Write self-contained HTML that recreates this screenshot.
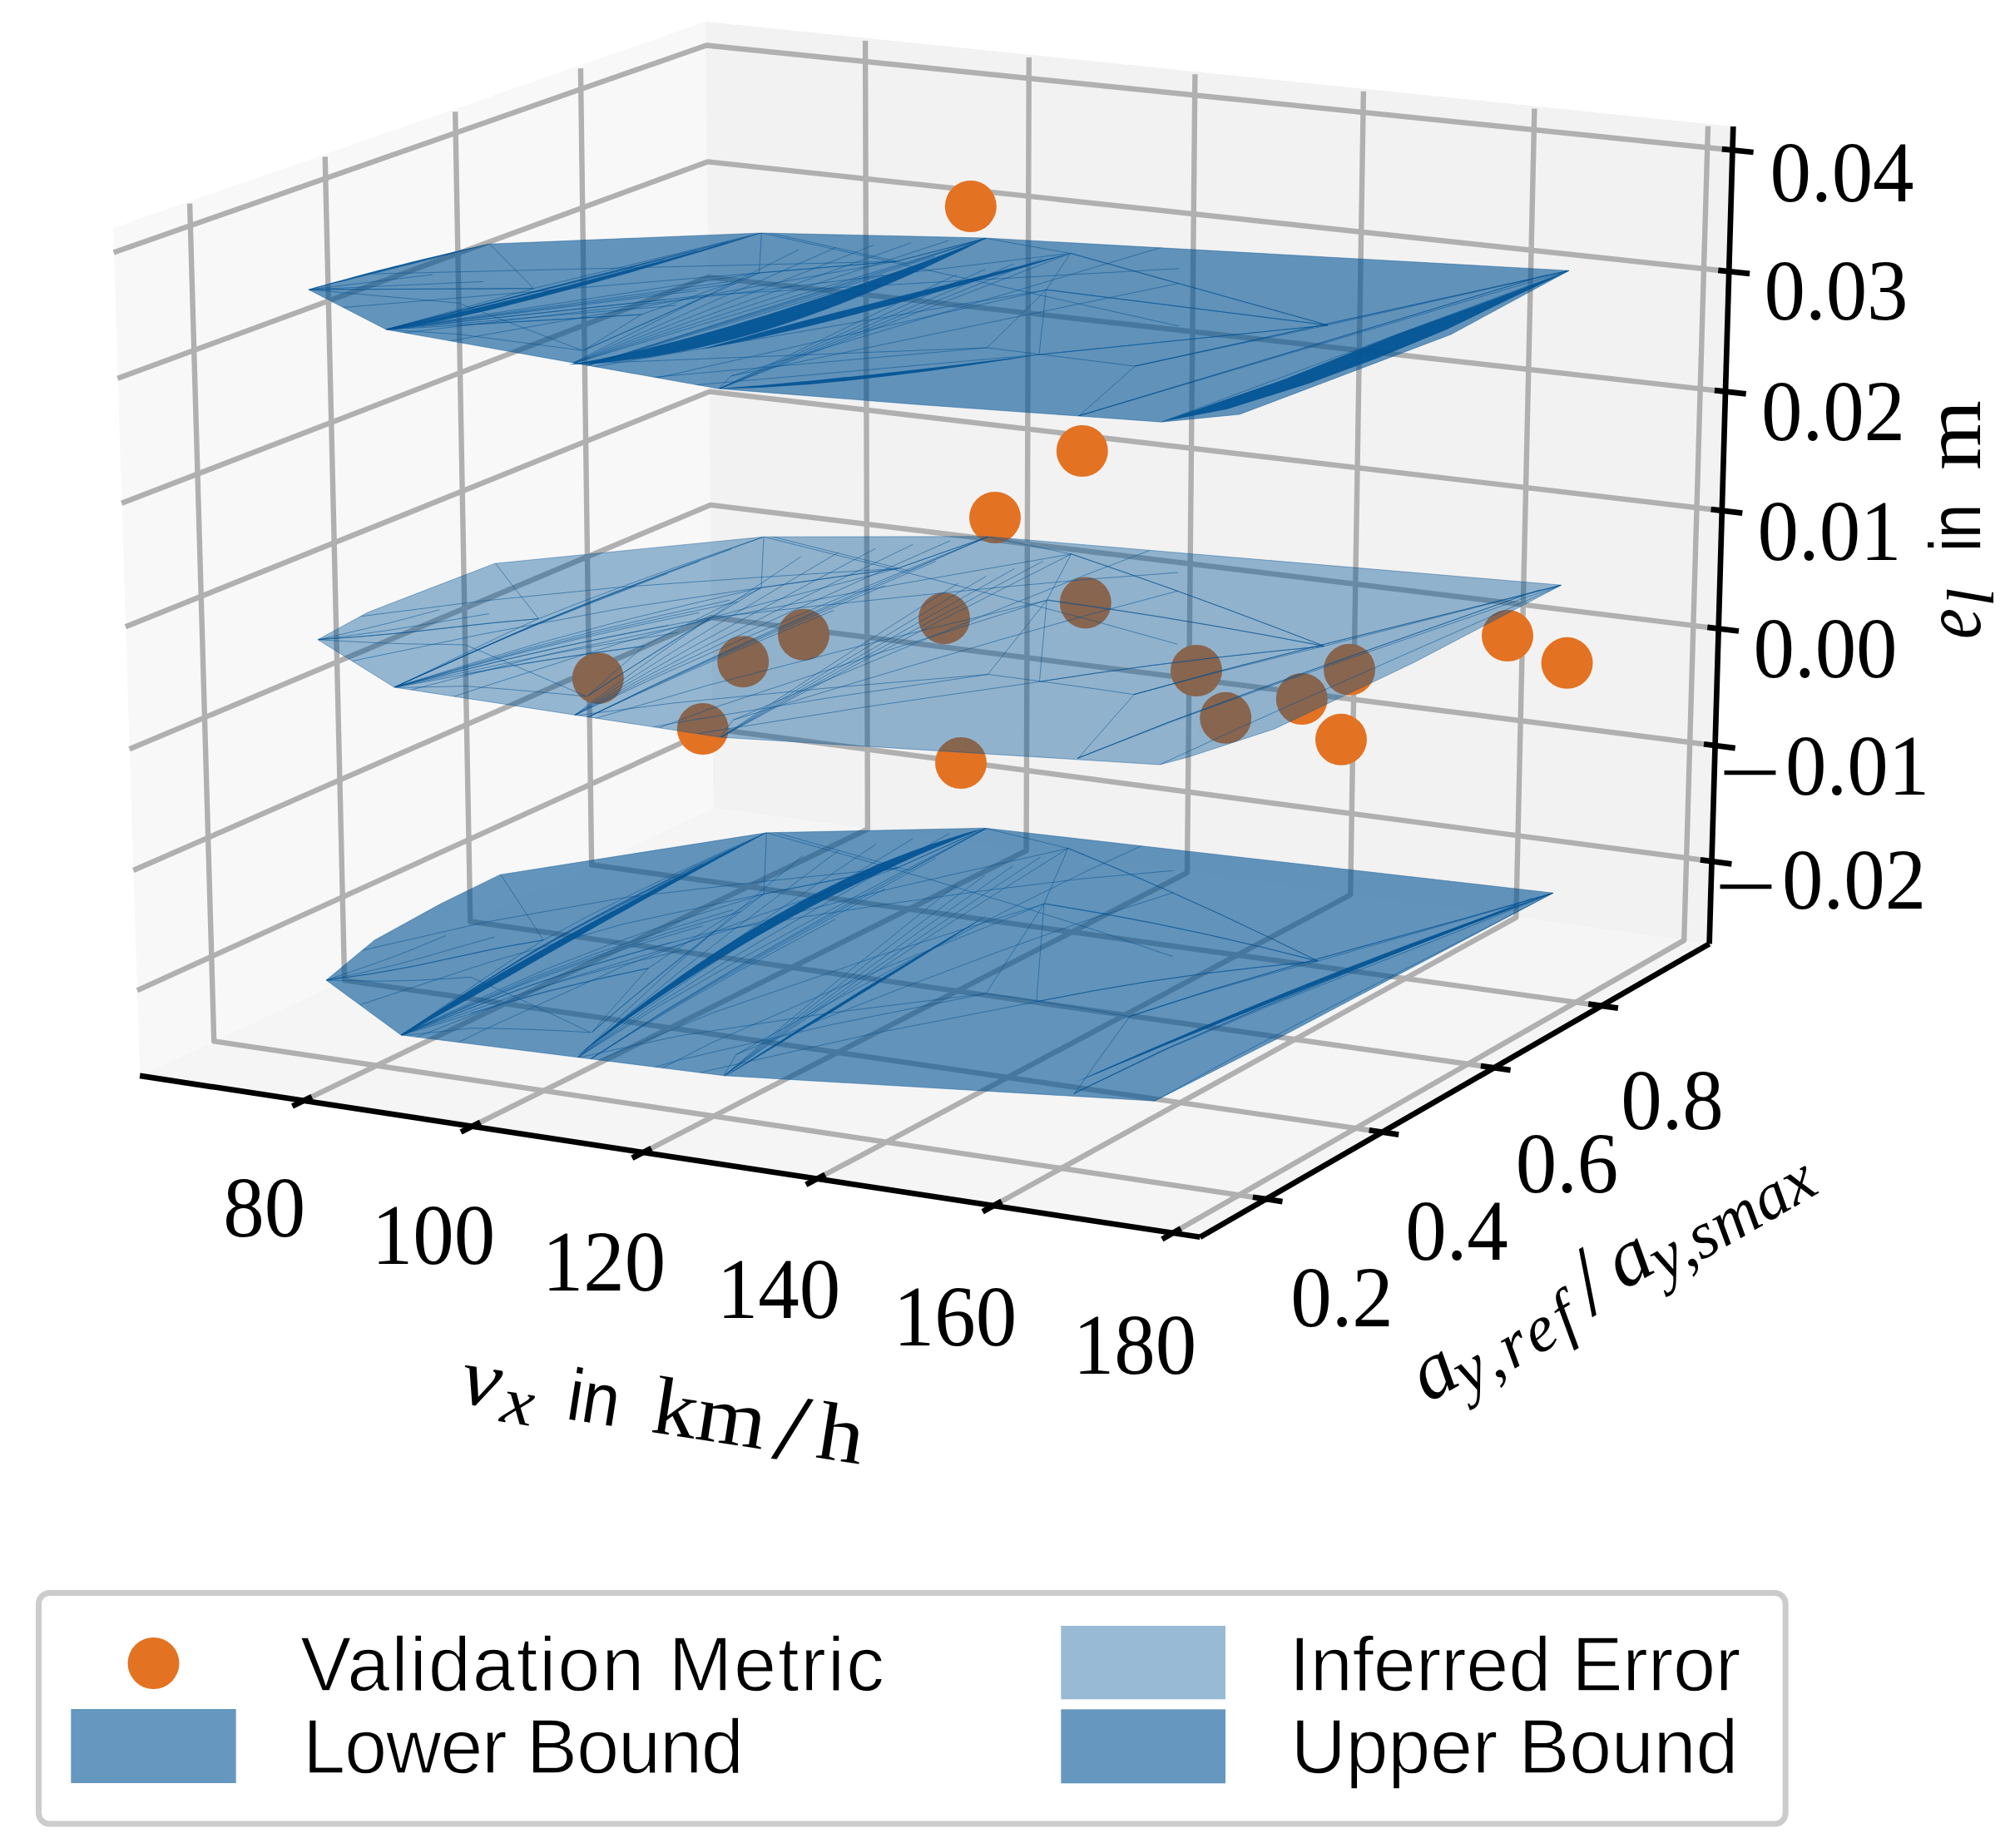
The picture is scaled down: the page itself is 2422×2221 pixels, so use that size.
<!DOCTYPE html>
<html><head><meta charset="utf-8"><title>plot</title>
<style>html,body{margin:0;padding:0;background:#fff}svg{display:block}</style></head>
<body>
<svg width="2422" height="2221" viewBox="0 0 2422 2221">
<rect width="2422" height="2221" fill="#fff"/>
<polygon points="168.1,1292.9 857.4,971.2 848.0,26.0 136.0,274.0" fill="#f8f8f8"/>
<polygon points="857.4,971.2 2054.6,1134.3 2083.3,152.0 848.0,26.0" fill="#f2f2f2"/>
<polygon points="168.1,1292.9 1442.4,1486.8 2054.6,1134.3 857.4,971.2" fill="#f5f5f5"/>
<g fill="none" stroke="#b0b0b0" stroke-width="6.4" stroke-linejoin="round">
<polyline points="364.9,1322.9 1042.9,996.4 1040.1,49.1"/>
<polyline points="567.5,1353.7 1233.6,1022.4 1236.8,69.0"/>
<polyline points="773.2,1385.0 1427.0,1048.8 1436.4,89.2"/>
<polyline points="982.1,1416.8 1623.2,1075.5 1638.9,109.7"/>
<polyline points="1194.3,1449.0 1822.3,1102.6 1844.4,130.5"/>
<polyline points="1409.8,1481.8 2024.2,1130.1 2053.0,151.6"/>
<polyline points="1521.7,1441.1 257.2,1251.3 228.1,244.7"/>
<polyline points="1661.4,1360.7 414.1,1178.1 390.7,188.4"/>
<polyline points="1795.8,1283.3 565.3,1107.5 547.2,134.2"/>
<polyline points="1925.1,1208.9 711.1,1039.4 697.9,82.1"/>
<polyline points="164.9,1190.3 856.5,875.9 2057.7,1035.2"/>
<polyline points="160.3,1046.0 855.3,742.0 2061.9,896.1"/>
<polyline points="155.6,900.3 854.1,606.9 2066.2,755.6"/>
<polyline points="150.9,753.3 852.9,470.6 2070.5,613.8"/>
<polyline points="146.2,604.8 851.6,333.1 2074.9,470.7"/>
<polyline points="141.4,454.8 850.4,194.4 2079.3,326.3"/>
<polyline points="136.6,303.4 849.1,54.5 2083.7,180.5"/>
</g>
<g fill="none" stroke="#000" stroke-width="6.7">
<line x1="168.1" y1="1292.9" x2="1442.4" y2="1486.8"/>
<line x1="1442.4" y1="1486.8" x2="2054.6" y2="1134.3"/>
<line x1="2054.6" y1="1134.3" x2="2083.3" y2="152.0"/>
<line x1="351.4" y1="1329.4" x2="374.8" y2="1318.1"/>
<line x1="554.0" y1="1360.4" x2="577.3" y2="1348.8"/>
<line x1="759.8" y1="1391.8" x2="782.9" y2="1379.9"/>
<line x1="968.8" y1="1423.8" x2="991.8" y2="1411.6"/>
<line x1="1181.1" y1="1456.3" x2="1203.9" y2="1443.7"/>
<line x1="1396.8" y1="1489.3" x2="1419.4" y2="1476.4"/>
<line x1="1541.5" y1="1444.1" x2="1505.9" y2="1438.7"/>
<line x1="1681.2" y1="1363.6" x2="1645.6" y2="1358.3"/>
<line x1="1815.6" y1="1286.1" x2="1779.9" y2="1281.0"/>
<line x1="1944.9" y1="1211.6" x2="1909.2" y2="1206.6"/>
<line x1="2081.4" y1="1038.4" x2="2043.8" y2="1033.4"/>
<line x1="2085.7" y1="899.1" x2="2048.0" y2="894.3"/>
<line x1="2090.0" y1="758.5" x2="2052.3" y2="753.9"/>
<line x1="2094.3" y1="616.6" x2="2056.6" y2="612.2"/>
<line x1="2098.7" y1="473.4" x2="2060.9" y2="469.1"/>
<line x1="2103.1" y1="328.9" x2="2065.3" y2="324.8"/>
<line x1="2107.6" y1="183.0" x2="2069.8" y2="179.1"/>
</g>
<g fill="#e37222">
<circle cx="1166.8" cy="248" r="31"/>
<circle cx="1300.8" cy="542" r="31"/>
<circle cx="1196" cy="622" r="31"/>
<circle cx="718.8" cy="815.2" r="31"/>
<circle cx="893.2" cy="795.2" r="31"/>
<circle cx="966" cy="762.8" r="31"/>
<circle cx="844.8" cy="876" r="31"/>
<circle cx="1135" cy="743.2" r="31"/>
<circle cx="1304.8" cy="724.4" r="31"/>
<circle cx="1155" cy="917" r="31"/>
<circle cx="1438" cy="806" r="31"/>
<circle cx="1473.2" cy="862.8" r="31"/>
<circle cx="1564.8" cy="840" r="31"/>
<circle cx="1622" cy="804.8" r="31"/>
<circle cx="1612" cy="888.8" r="31"/>
<circle cx="1812" cy="764" r="31"/>
<circle cx="1883.6" cy="796.8" r="31"/>
</g>
<polygon points="392.0,1178.0 450.0,1130.0 530.0,1086.0 601.2,1051.2 921.2,1000.8 1184.0,995.2 1867.2,1073.2 1680.0,1172.0 1540.0,1246.0 1388.0,1323.2 870.0,1292.8 482.0,1244.0" fill="#005293" fill-opacity="0.6"/>
<polygon points="382.0,768.8 442.0,736.0 594.8,677.2 918.0,645.2 1186.0,644.8 1876.8,703.2 1700.0,796.0 1532.0,876.0 1428.0,910.0 1394.0,919.0 866.0,886.0 474.0,826.0" fill="#005293" fill-opacity="0.4"/>
<polygon points="370.8,348.0 588.0,293.2 915.2,280.0 1100.0,284.0 1184.0,286.0 1886.0,325.2 1744.0,402.0 1490.0,498.0 1396.0,507.2 1296.0,500.0 1100.0,486.0 864.0,467.2 464.0,396.0" fill="#005293" fill-opacity="0.6"/>
<g fill="#005293" fill-opacity="0.9">
<polygon points="464.0,396.1 478.0,394.3 492.5,392.0 507.4,389.5 522.9,386.7 539.0,383.6 555.5,380.1 572.5,376.3 590.1,372.2 608.1,367.8 626.7,363.1 645.8,358.2 665.4,353.1 685.5,347.7 706.1,342.0 727.3,336.1 749.0,330.0 771.2,323.6 793.9,317.0 817.1,310.1 840.9,303.0 865.2,295.7 890.0,288.1 915.2,280.1 915.2,279.9 889.6,287.0 864.7,294.0 840.3,300.9 816.4,307.5 793.0,313.9 770.2,320.0 747.9,326.0 726.1,331.8 704.9,337.3 684.2,342.7 664.0,347.8 644.4,352.7 625.3,357.5 606.7,362.0 588.7,366.3 571.2,370.5 554.2,374.5 537.8,378.4 522.0,382.2 506.7,385.8 491.9,389.3 477.7,392.6 464.0,395.9"/>
<polygon points="684.6,438.3 702.8,437.6 721.3,436.3 740.3,434.4 759.5,432.1 779.2,429.4 799.1,426.1 819.5,422.2 840.1,417.9 861.1,413.0 882.4,407.5 904.0,401.5 925.8,394.9 948.0,387.8 970.5,380.1 993.2,371.8 1016.2,362.9 1039.5,353.5 1063.0,343.6 1086.9,333.2 1111.0,322.2 1135.4,310.8 1160.1,299.0 1185.0,286.5 1185.0,286.3 1158.9,296.3 1133.4,306.0 1108.2,315.4 1083.3,324.4 1058.9,333.1 1034.9,341.4 1011.3,349.4 988.1,357.2 965.2,364.6 942.8,371.8 920.8,378.7 899.2,385.3 877.9,391.7 857.0,397.7 836.5,403.5 816.4,408.9 796.6,414.1 777.1,418.9 758.0,423.5 739.2,427.6 720.7,431.4 702.5,434.9 684.6,438.1"/>
<polygon points="843.0,420.1 861.3,416.6 879.6,412.8 898.1,409.0 916.6,405.0 935.2,400.8 953.9,396.5 972.7,391.9 991.6,387.2 1010.5,382.4 1029.6,377.4 1048.7,372.3 1068.0,367.2 1087.3,361.9 1106.8,356.6 1126.4,351.1 1146.0,345.6 1165.8,340.0 1185.7,334.3 1205.7,328.6 1225.8,322.7 1246.0,316.8 1266.3,310.8 1286.6,304.6 1286.6,304.4 1265.9,309.5 1245.4,314.7 1225.0,319.9 1204.7,325.1 1184.6,330.2 1164.5,335.2 1144.6,340.2 1124.8,345.2 1105.1,350.2 1085.6,355.1 1066.1,360.0 1046.8,364.9 1027.6,369.8 1008.5,374.6 989.6,379.5 970.8,384.3 952.1,389.3 933.6,394.3 915.2,399.3 896.9,404.4 878.8,409.5 860.8,414.6 843.0,419.9"/>
<polygon points="865.0,467.1 877.0,467.1 889.4,466.8 902.2,466.3 915.5,465.7 929.2,465.0 943.3,464.1 957.9,463.1 972.9,461.9 988.3,460.6 1004.2,459.1 1020.4,457.4 1037.1,455.6 1054.3,453.6 1071.8,451.5 1089.8,449.3 1108.2,446.9 1127.0,444.4 1146.3,441.7 1166.0,438.9 1186.1,436.0 1206.7,433.0 1227.6,429.8 1249.0,426.3 1249.0,426.1 1227.5,428.7 1206.5,431.4 1185.8,434.0 1165.7,436.5 1145.9,438.9 1126.6,441.2 1107.8,443.4 1089.3,445.5 1071.3,447.5 1053.8,449.4 1036.7,451.2 1020.0,452.9 1003.7,454.6 987.9,456.2 972.5,457.7 957.6,459.1 943.0,460.5 929.0,461.7 915.3,462.9 902.1,464.0 889.3,465.0 876.9,465.9 865.0,466.9"/>
<polygon points="1395.9,507.1 1544.6,455.6 1683.5,400.1 1794.7,359.8 1886.4,325.6 1822.5,355.6 1739.1,395.9 1655.7,430.6 1572.3,461.2 1475.1,491.8"/>
<polygon points="370.8,348.1 380.4,345.9 389.9,343.5 399.4,341.1 408.9,338.8 418.4,336.4 427.9,334.0 437.4,331.7 446.9,329.3 456.4,327.0 465.8,324.6 475.3,322.2 484.7,319.8 494.2,317.4 503.6,315.0 513.0,312.6 522.4,310.2 531.8,307.8 541.2,305.4 550.6,303.0 560.0,300.6 569.3,298.3 578.7,295.9 588.0,293.3 588.0,293.1 578.5,295.0 569.1,297.2 559.6,299.3 550.2,301.5 540.8,303.7 531.3,305.9 521.9,308.2 512.4,310.4 503.0,312.7 493.6,315.0 484.1,317.4 474.7,319.8 465.2,322.2 455.8,324.6 446.3,327.1 436.9,329.6 427.4,332.1 418.0,334.7 408.5,337.2 399.1,339.8 389.6,342.4 380.2,345.1 370.8,347.9"/>
<polygon points="482.3,1245.0 501.9,1234.4 521.3,1223.8 540.7,1213.1 560.1,1202.4 579.4,1191.6 598.6,1180.8 617.7,1169.9 636.7,1159.0 655.8,1148.1 674.8,1137.3 693.8,1126.5 712.8,1115.7 731.7,1105.0 750.7,1094.4 769.6,1083.8 788.6,1073.2 807.5,1062.7 826.4,1052.3 845.3,1041.9 864.2,1031.6 883.1,1021.4 902.0,1011.2 920.8,1000.9 920.8,1000.7 901.4,1010.0 882.2,1019.6 863.0,1029.2 843.7,1038.9 824.5,1048.7 805.3,1058.6 786.1,1068.6 766.9,1078.7 747.7,1088.9 728.5,1099.1 709.3,1109.5 690.2,1120.0 671.0,1130.6 651.9,1141.3 632.8,1152.1 613.7,1163.0 594.7,1174.0 575.7,1185.3 556.8,1196.8 538.1,1208.6 519.4,1220.5 500.7,1232.5 482.1,1244.8"/>
<polygon points="695.6,1267.8 717.3,1251.7 738.9,1235.9 760.5,1220.6 782.1,1205.7 803.6,1191.2 825.2,1177.2 846.6,1163.5 868.0,1150.3 889.4,1137.4 910.8,1125.0 932.1,1112.9 953.3,1101.2 974.6,1090.0 995.7,1079.0 1016.9,1068.5 1037.9,1058.2 1058.9,1048.2 1079.9,1038.5 1100.9,1029.1 1121.8,1020.1 1142.7,1011.4 1163.6,1003.2 1184.5,995.1 1184.5,994.9 1162.8,1000.8 1141.3,1007.4 1119.7,1014.6 1098.1,1022.2 1076.5,1030.4 1054.9,1039.1 1033.4,1048.4 1012.0,1058.3 990.6,1068.8 969.2,1079.8 947.9,1091.4 926.7,1103.4 905.4,1115.9 884.3,1129.0 863.1,1142.5 842.0,1156.5 821.0,1171.0 800.0,1185.9 779.0,1201.3 758.0,1217.2 737.1,1233.5 716.2,1250.3 695.4,1267.6"/>
<polygon points="870.9,1294.1 884.6,1286.0 898.3,1277.7 912.0,1269.5 925.7,1261.2 939.4,1252.9 953.1,1244.6 966.8,1236.3 980.5,1228.0 994.1,1219.7 1007.8,1211.4 1021.4,1203.0 1035.1,1194.6 1048.7,1186.2 1062.3,1177.8 1075.9,1169.4 1089.5,1160.9 1103.1,1152.5 1116.7,1144.0 1130.3,1135.5 1143.9,1127.0 1157.5,1118.5 1171.1,1110.0 1184.6,1101.4 1184.4,1101.2 1170.5,1109.2 1156.8,1117.4 1143.0,1125.5 1129.2,1133.7 1115.5,1141.9 1101.7,1150.2 1088.0,1158.4 1074.3,1166.7 1060.6,1175.0 1046.9,1183.3 1033.2,1191.6 1019.6,1200.0 1006.0,1208.4 992.4,1216.9 978.8,1225.3 965.2,1233.8 951.7,1242.3 938.1,1250.9 924.6,1259.4 911.1,1268.0 897.6,1276.6 884.1,1285.1 870.7,1293.9"/>
<polygon points="1292.1,1301.1 1318.2,1290.4 1344.1,1279.6 1369.9,1268.9 1395.6,1258.3 1421.3,1247.8 1446.8,1237.4 1472.3,1227.1 1497.6,1216.9 1522.9,1206.8 1548.1,1196.7 1573.2,1186.8 1598.2,1176.9 1623.2,1167.1 1648.0,1157.4 1672.7,1147.8 1697.3,1138.2 1721.9,1128.7 1746.3,1119.3 1770.7,1109.9 1795.0,1100.7 1819.2,1091.5 1843.3,1082.4 1867.2,1073.3 1867.2,1073.1 1842.8,1081.3 1818.5,1089.7 1794.1,1098.3 1769.6,1107.0 1745.1,1115.9 1720.4,1124.9 1695.8,1134.1 1671.0,1143.4 1646.2,1152.9 1621.3,1162.5 1596.4,1172.3 1571.4,1182.2 1546.3,1192.3 1521.2,1202.6 1496.0,1212.9 1470.8,1223.4 1445.4,1234.1 1420.0,1244.9 1394.6,1255.8 1369.0,1266.8 1343.4,1278.0 1317.7,1289.3 1292.1,1300.9"/>
</g>
<g fill="none" stroke="#005293" stroke-width="0.9" stroke-opacity="0.6">
<clipPath id="ct"><polygon points="370.8,348.0 588.0,293.2 915.2,280.0 1100.0,284.0 1184.0,286.0 1886.0,325.2 1744.0,402.0 1490.0,498.0 1396.0,507.2 1296.0,500.0 1100.0,486.0 864.0,467.2 464.0,396.0"/></clipPath><clipPath id="cm"><polygon points="382.0,768.8 442.0,736.0 594.8,677.2 918.0,645.2 1186.0,644.8 1876.8,703.2 1700.0,796.0 1532.0,876.0 1428.0,910.0 1394.0,919.0 866.0,886.0 474.0,826.0"/></clipPath><clipPath id="cl"><polygon points="392.0,1178.0 450.0,1130.0 530.0,1086.0 601.2,1051.2 921.2,1000.8 1184.0,995.2 1867.2,1073.2 1680.0,1172.0 1540.0,1246.0 1388.0,1323.2 870.0,1292.8 482.0,1244.0"/></clipPath>
<g clip-path="url(#ct)">
<polyline points="588.7,293.4 641.5,346.7"/>
<polyline points="370.8,348.0 641.5,346.7"/>
<polyline points="463.6,396.2 641.5,346.7"/>
<polyline points="370.8,348.0 551.2,364.2 699.9,421.2"/>
<polyline points="463.6,396.2 770.7,378.1 912.5,328.1"/>
<polyline points="915.3,280.0 912.5,328.1 1076.7,314.2 1185.1,286.4"/>
<polyline points="770.7,378.1 701.3,421.2"/>
<polyline points="701.3,421.2 851.3,354.5 1416.9,322.8"/>
<polyline points="463.6,396.2 551.2,401.7 699.9,421.2"/>
<polyline points="863.8,467.1 879.1,451.8 1416.9,291.1"/>
<polyline points="879.1,451.8 1416.9,340.5"/>
<polyline points="463.6,396.2 851.3,354.5"/>
<polyline points="463.6,396.2 884.7,340.6"/>
<polyline points="463.6,396.2 812.4,367.0"/>
<polyline points="915.3,280.0 1416.9,391.9"/>
<polyline points="641.5,346.7 915.3,280.0"/>
<polyline points="701.3,421.2 912.5,328.1"/>
<polyline points="551.2,390.6 770.7,378.1"/>
<polyline points="237.4,126.4 1090.6,317.0 1185.1,286.4"/>
<polyline points="237.4,384.1 1076.7,314.2 1185.1,286.4"/>
<polyline points="1185.1,286.4 1286.6,304.5 1595.9,390.8"/>
<polyline points="1286.6,304.5 1257.4,348.4 1186.5,417.9"/>
<polyline points="1257.4,348.4 1249.0,426.2"/>
<polyline points="1257.4,348.4 1595.9,390.8"/>
<polyline points="1186.5,417.9 1364.4,440.1 1296.3,500.4"/>
<polyline points="1364.4,440.1 1886.1,325.2"/>
<polyline points="1249.0,426.2 1595.9,390.8"/>
<polyline points="237.4,455.1 1186.5,417.9"/>
<polyline points="237.4,501.7 1186.5,417.9"/>
<polyline points="237.4,579.1 1257.4,348.4"/>
<polyline points="237.4,521.9 1257.4,348.4"/>
<polyline points="237.4,429.5 1286.6,304.5"/>
<polyline points="237.4,515.7 1249.0,426.2"/>
<polyline points="237.4,334.2 1076.7,314.2"/>
<polyline points="237.4,464.1 1076.7,314.2"/>
<polyline points="1286.0,304.0 1596.0,390.8 1886.0,325.2"/>
<polyline points="1258.0,348.0 1596.0,390.8"/>
<polyline points="1250.0,426.0 1596.0,390.8"/>
<polyline points="1364.0,440.0 1596.0,390.8"/>
<polyline points="1296.0,500.0 1886.0,325.2"/>
<polyline points="1296.0,500.0 1860.0,330.0"/>
<polyline points="1296.0,500.0 1840.0,336.0"/>
<polyline points="1396.0,507.2 1886.0,325.2"/>
<polyline points="1364.0,440.0 1886.0,325.2"/>
<polyline points="464.0,396.0 760.0,322.0"/>
<polyline points="464.0,396.0 798.8,311.5"/>
<polyline points="464.0,396.0 837.6,301.0"/>
<polyline points="464.0,396.0 876.4,290.5"/>
<polyline points="464.0,396.0 915.2,280.0"/>
<polyline points="464.0,396.0 800.0,360.0"/>
<polyline points="464.0,396.0 837.5,349.3"/>
<polyline points="464.0,396.0 875.0,338.7"/>
<polyline points="464.0,396.0 912.5,328.0"/>
<polyline points="684.6,438.2 960.0,300.0"/>
<polyline points="684.6,438.2 1005.0,297.3"/>
<polyline points="684.6,438.2 1050.0,294.6"/>
<polyline points="684.6,438.2 1095.0,291.8"/>
<polyline points="684.6,438.2 1140.0,289.1"/>
<polyline points="684.6,438.2 1185.0,286.4"/>
<polyline points="700.0,441.0 1000.0,352.0"/>
<polyline points="700.0,441.0 1061.7,330.1"/>
<polyline points="700.0,441.0 1123.3,308.3"/>
<polyline points="700.0,441.0 1185.0,286.4"/>
<polyline points="865.0,467.0 1150.0,330.0"/>
<polyline points="865.0,467.0 1184.2,323.6"/>
<polyline points="865.0,467.0 1218.3,317.2"/>
<polyline points="865.0,467.0 1252.4,310.9"/>
<polyline points="865.0,467.0 1286.6,304.5"/>
<polyline points="370.8,348.0 520.0,330.0"/>
<polyline points="370.8,348.0 580.8,338.4"/>
<polyline points="370.8,348.0 641.5,346.7"/>
</g><g clip-path="url(#cm)">
<polyline points="595.5,677.3 605.8,690.5 616.2,703.8 626.6,717.0 637.0,730.3 647.3,743.6"/>
<polyline points="382.0,768.8 435.4,764.9 488.5,760.1 541.4,754.2 594.3,748.4 647.3,743.6"/>
<polyline points="473.6,826.3 508.4,809.7 543.1,792.8 577.8,776.0 612.5,759.5 647.3,743.6"/>
<polyline points="382.0,768.8 417.6,770.8 453.1,772.6 488.5,773.8 523.8,774.4 559.0,774.9 588.1,787.0 617.2,799.3 646.3,811.7 675.4,824.3 704.6,836.9"/>
<polyline points="473.6,826.3 533.7,815.3 593.6,804.1 653.6,793.9 713.9,784.8 774.3,776.5 802.3,762.1 830.4,747.9 858.5,734.0 886.7,720.1 915.0,706.4"/>
<polyline points="918.1,645.2 917.4,657.5 916.8,669.7 916.2,681.9 915.6,694.1 915.0,706.4 947.7,701.7 980.5,697.0 1013.3,692.3 1046.1,687.7 1078.9,683.2 1100.6,675.5 1122.2,667.9 1143.9,660.3 1165.5,652.8 1187.1,645.3"/>
<polyline points="774.3,776.5 760.6,788.4 746.9,800.4 733.2,812.5 719.6,824.6 705.9,836.8"/>
<polyline points="705.9,836.8 735.4,817.4 765.0,798.2 794.6,779.3 824.3,760.7 854.1,742.3 966.6,729.9 1079.5,718.0 1192.3,706.8 1304.3,696.5 1415.9,688.1"/>
<polyline points="473.6,826.3 490.8,826.1 507.9,825.8 525.0,825.4 542.1,825.0 559.2,824.6 588.2,826.7 617.2,829.0 646.3,831.5 675.4,834.1 704.6,836.9"/>
<polyline points="865.8,885.8 868.9,881.7 871.9,877.7 875.0,873.6 878.0,869.5 881.1,865.4 988.2,819.8 1095.8,775.1 1203.1,731.4 1309.8,689.0 1416.1,648.5"/>
<polyline points="881.1,865.4 988.2,832.3 1095.6,800.1 1202.9,768.7 1309.6,738.5 1415.8,710.2"/>
<polyline points="473.6,826.3 549.4,807.3 625.1,788.7 701.1,771.9 777.4,756.6 854.1,742.3"/>
<polyline points="473.6,826.3 555.9,802.9 638.1,780.2 720.7,759.7 803.8,740.9 887.2,723.3"/>
<polyline points="473.6,826.3 541.8,811.5 609.9,796.7 678.2,783.3 746.7,771.2 815.5,760.0"/>
<polyline points="918.1,645.2 1017.9,670.2 1117.9,695.3 1217.6,720.8 1316.7,746.8 1415.5,774.3"/>
<polyline points="647.3,743.6 701.1,722.6 755.1,702.4 809.2,682.9 863.6,663.9 918.1,645.2"/>
<polyline points="705.9,836.8 747.4,809.7 789.1,783.2 830.9,757.2 872.9,731.6 915.0,706.4"/>
<polyline points="559.1,809.9 602.0,802.2 644.9,795.0 688.0,788.4 731.1,782.2 774.3,776.5"/>
<polyline points="250.4,486.7 418.2,524.6 585.7,560.5 753.8,600.4 922.8,643.6 1092.7,686.2 1111.6,678.0 1130.5,669.8 1149.4,661.6 1168.3,653.4 1187.1,645.3"/>
<polyline points="250.7,823.9 416.1,796.0 580.4,762.0 745.1,731.5 911.4,706.6 1078.9,683.2 1100.6,675.5 1122.2,667.9 1143.9,660.3 1165.5,652.8 1187.1,645.3"/>
<polyline points="1187.1,645.3 1207.2,649.4 1227.3,653.4 1247.4,657.6 1267.4,661.7 1287.4,665.9 1348.4,686.8 1409.3,708.3 1470.1,730.4 1530.8,753.2 1591.6,776.5"/>
<polyline points="1287.4,665.9 1281.6,677.0 1275.8,688.1 1270.0,699.2 1264.1,710.3 1258.3,721.4 1244.1,739.1 1230.0,756.9 1215.8,774.7 1201.6,792.6 1187.4,810.5"/>
<polyline points="1258.3,721.4 1256.5,741.0 1254.7,760.5 1252.9,780.1 1251.2,799.7 1249.4,819.3"/>
<polyline points="1258.3,721.4 1325.1,730.9 1391.9,741.1 1458.5,752.2 1525.1,764.1 1591.6,776.5"/>
<polyline points="1187.4,810.5 1222.7,815.1 1257.9,819.8 1293.1,824.6 1328.2,829.5 1363.3,834.7 1349.8,850.0 1336.2,865.3 1322.7,880.7 1309.1,896.2 1295.5,911.8"/>
<polyline points="1363.3,834.7 1466.3,806.4 1569.1,780.0 1671.7,754.5 1774.3,729.1 1876.9,703.2"/>
<polyline points="1249.4,819.3 1318.1,809.0 1386.6,799.5 1455.0,791.1 1523.3,783.5 1591.6,776.5"/>
<polyline points="250.8,916.5 437.9,896.2 623.5,868.8 809.7,844.9 998.2,826.6 1187.4,810.5"/>
<polyline points="250.8,976.9 437.8,944.4 623.5,905.4 809.7,869.0 998.1,838.4 1187.4,810.5"/>
<polyline points="250.7,1076.8 451.6,1005.2 651.2,927.1 851.6,852.7 1055.0,785.4 1258.3,721.4"/>
<polyline points="250.8,1003.0 451.7,946.3 651.2,882.3 851.8,823.4 1055.1,770.9 1258.3,721.4"/>
<polyline points="250.8,883.1 457.5,838.5 662.6,785.5 869.5,741.7 1078.8,702.4 1287.4,665.9"/>
<polyline points="250.8,995.0 450.1,960.1 648.0,918.4 846.6,880.4 1047.9,848.5 1249.4,819.3"/>
<polyline points="250.6,758.6 415.9,743.0 580.3,722.2 745.2,705.7 911.4,693.9 1078.9,683.2"/>
<polyline points="250.8,928.1 416.2,880.0 580.6,825.5 745.0,773.0 911.2,726.9 1078.9,683.2"/>
<polyline points="1286.9,665.3 1348.0,686.4 1409.0,707.9 1469.9,730.2 1530.8,753.1 1591.7,776.5 1648.7,761.9 1705.7,747.3 1762.8,732.8 1819.8,718.2 1876.8,703.2"/>
<polyline points="1258.9,720.9 1325.6,730.5 1392.3,740.9 1458.8,752.0 1525.2,764.0 1591.7,776.5"/>
<polyline points="1250.3,819.0 1318.8,808.7 1387.2,799.3 1455.4,791.0 1523.6,783.5 1591.7,776.5"/>
<polyline points="1362.9,834.6 1408.8,822.2 1454.6,810.3 1500.3,798.8 1546.0,787.5 1591.7,776.5"/>
<polyline points="1295.2,911.3 1412.1,865.9 1528.5,824.0 1644.7,783.6 1760.8,743.7 1876.8,703.2"/>
<polyline points="1295.2,911.3 1406.9,867.1 1518.3,826.1 1629.4,786.7 1740.3,747.8 1851.2,708.6"/>
<polyline points="1295.2,911.3 1403.0,868.6 1510.4,829.0 1617.5,790.8 1724.6,753.3 1831.6,715.6"/>
<polyline points="1394.0,919.0 1490.9,874.3 1587.5,831.1 1684.0,788.6 1780.4,746.2 1876.8,703.2"/>
<polyline points="1362.9,834.6 1466.0,806.3 1568.8,779.9 1671.5,754.4 1774.2,729.1 1876.8,703.2"/>
<polyline points="474.0,826.0 531.8,800.4 589.5,774.6 647.4,750.0 705.6,726.8 763.9,704.5"/>
<polyline points="474.0,826.0 539.4,796.8 604.7,767.6 670.3,740.1 736.1,714.2 802.3,689.4"/>
<polyline points="474.0,826.0 546.9,793.2 619.9,760.7 693.1,730.4 766.8,701.8 840.8,674.5"/>
<polyline points="474.0,826.0 554.5,789.6 635.1,753.9 716.0,720.8 797.5,689.7 879.3,659.8"/>
<polyline points="474.0,826.0 562.1,786.0 650.3,747.2 739.0,711.4 828.2,677.7 918.0,645.2"/>
<polyline points="474.0,826.0 539.6,809.6 605.2,793.3 671.0,778.2 737.0,764.4 803.2,751.6"/>
<polyline points="474.0,826.0 547.0,806.0 619.9,786.3 693.1,768.3 766.6,751.7 840.4,736.3"/>
<polyline points="474.0,826.0 554.3,802.4 634.5,779.3 715.2,758.5 796.2,739.3 877.6,721.2"/>
<polyline points="474.0,826.0 561.6,798.8 649.2,772.5 737.3,748.8 825.9,727.0 915.0,706.3"/>
<polyline points="689.6,860.3 743.7,820.3 798.0,781.4 852.6,743.4 907.4,706.1 962.5,669.1"/>
<polyline points="689.6,860.3 752.5,819.0 815.7,779.1 879.4,740.2 943.3,702.0 1007.4,664.1"/>
<polyline points="689.6,860.3 761.4,817.8 833.5,776.8 906.2,737.1 979.2,698.0 1052.3,659.2"/>
<polyline points="689.6,860.3 770.2,816.5 851.4,774.6 933.1,734.0 1015.1,694.0 1097.3,654.4"/>
<polyline points="689.6,860.3 779.1,815.3 869.2,772.4 960.0,730.9 1051.1,690.0 1142.2,649.8"/>
<polyline points="689.6,860.3 787.9,814.1 887.1,770.3 986.9,727.9 1087.0,686.1 1187.0,645.3"/>
<polyline points="704.7,862.8 763.6,835.4 822.8,809.0 882.3,783.4 942.1,758.3 1002.0,733.5"/>
<polyline points="704.7,862.8 775.8,829.0 847.2,796.5 919.1,765.1 991.4,734.3 1063.7,703.8"/>
<polyline points="704.7,862.8 787.9,822.6 871.7,784.2 956.1,747.1 1040.7,710.4 1125.4,674.3"/>
<polyline points="704.7,862.8 800.1,816.3 896.2,772.0 993.1,729.1 1090.1,686.8 1187.0,645.3"/>
<polyline points="867.0,885.7 923.7,847.9 980.6,810.6 1037.7,773.7 1094.8,737.2 1151.8,701.0"/>
<polyline points="867.0,885.7 930.5,845.9 994.3,806.8 1058.2,768.2 1122.1,729.9 1185.9,692.1"/>
<polyline points="867.0,885.7 937.3,844.0 1007.9,803.1 1078.6,762.6 1149.4,722.7 1219.8,683.2"/>
<polyline points="867.0,885.7 944.1,842.1 1021.6,799.3 1099.1,757.1 1176.6,715.5 1253.7,674.5"/>
<polyline points="867.0,885.7 950.9,840.2 1035.2,795.6 1119.6,751.6 1203.8,708.4 1287.5,666.0"/>
<polyline points="382.0,768.8 411.4,762.1 440.8,755.3 470.1,748.1 499.3,740.5 528.4,732.7"/>
<polyline points="382.0,768.8 423.4,763.5 464.7,757.8 505.8,751.3 546.8,744.4 587.8,737.6"/>
<polyline points="382.0,768.8 435.4,764.9 488.5,760.1 541.4,754.2 594.3,748.4 647.3,743.6"/>
</g><g clip-path="url(#cl)">
<polyline points="601.9,1051.3 612.1,1066.9 622.4,1082.6 632.6,1098.3 642.9,1114.0 653.2,1129.8"/>
<polyline points="392.0,1178.0 444.2,1170.7 496.4,1161.5 548.5,1150.2 600.7,1139.0 653.2,1129.8"/>
<polyline points="481.6,1244.4 515.9,1221.4 550.1,1197.8 584.3,1174.3 618.7,1151.5 653.2,1129.8"/>
<polyline points="392.0,1178.0 426.8,1178.8 461.6,1179.1 496.4,1178.4 531.1,1176.6 565.8,1174.4 594.6,1187.2 623.4,1200.2 652.2,1213.6 681.1,1227.2 710.0,1240.9"/>
<polyline points="481.6,1244.4 540.7,1226.3 600.0,1207.9 659.5,1191.3 719.3,1176.7 779.2,1163.7 807.0,1145.1 834.8,1127.0 862.6,1109.2 890.4,1091.8 918.2,1074.5"/>
<polyline points="921.3,1000.8 920.7,1015.6 920.1,1030.3 919.4,1045.0 918.8,1059.8 918.2,1074.5 950.4,1068.0 982.6,1061.6 1014.8,1055.2 1046.9,1049.0 1079.0,1042.9 1100.3,1033.3 1121.5,1023.8 1142.7,1014.4 1163.9,1005.0 1185.1,995.8"/>
<polyline points="779.2,1163.7 765.6,1178.8 752.0,1194.1 738.5,1209.5 724.9,1225.0 711.4,1240.7"/>
<polyline points="711.4,1240.7 740.6,1215.4 770.0,1190.6 799.3,1166.3 828.7,1142.6 858.2,1119.4 969.0,1101.5 1079.6,1084.7 1190.1,1069.5 1300.2,1056.2 1410.2,1046.3"/>
<polyline points="481.6,1244.4 498.5,1243.0 515.3,1241.3 532.2,1239.5 549.1,1237.6 565.9,1235.8 594.6,1236.1 623.4,1236.8 652.2,1237.8 681.1,1239.2 710.0,1240.9"/>
<polyline points="869.9,1292.6 872.9,1287.5 875.9,1282.5 878.9,1277.4 881.9,1272.4 884.9,1267.3 990.2,1209.1 1095.5,1153.1 1200.7,1098.9 1305.6,1047.2 1410.5,998.9"/>
<polyline points="884.9,1267.3 990.1,1224.3 1095.3,1183.2 1200.4,1143.7 1305.2,1106.5 1410.1,1072.8"/>
<polyline points="481.6,1244.4 556.3,1215.2 631.1,1186.6 706.5,1161.5 782.3,1139.4 858.2,1119.4"/>
<polyline points="481.6,1244.4 562.7,1209.3 644.1,1175.3 726.0,1145.7 808.4,1119.5 890.9,1095.6"/>
<polyline points="481.6,1244.4 548.8,1220.9 616.1,1197.5 683.8,1176.7 751.8,1158.5 820.0,1142.2"/>
<polyline points="921.3,1000.8 1019.3,1028.5 1117.2,1056.8 1214.9,1085.9 1312.2,1116.4 1409.5,1149.6"/>
<polyline points="653.2,1129.8 706.5,1101.3 760.1,1074.5 813.8,1049.0 867.5,1024.6 921.3,1000.8"/>
<polyline points="711.4,1240.7 752.6,1205.4 793.9,1171.3 835.3,1138.2 876.7,1106.0 918.2,1074.5"/>
<polyline points="565.9,1217.7 608.3,1204.9 650.8,1193.1 693.5,1182.5 736.3,1172.7 779.2,1163.7"/>
<polyline points="263.0,837.7 427.9,875.6 592.6,909.5 758.8,950.8 925.9,998.7 1092.6,1046.3 1111.1,1036.1 1129.6,1025.9 1148.1,1015.8 1166.6,1005.8 1185.1,995.8"/>
<polyline points="262.9,1251.3 425.3,1210.0 587.0,1156.8 750.2,1110.3 914.7,1074.9 1079.0,1042.9 1100.3,1033.3 1121.5,1023.8 1142.7,1014.4 1163.9,1005.0 1185.1,995.8"/>
<polyline points="1185.1,995.8 1204.8,1000.4 1224.5,1005.1 1244.3,1009.9 1264.0,1014.7 1283.7,1019.6 1343.6,1044.5 1403.6,1070.4 1463.7,1097.5 1523.7,1125.8 1583.9,1155.0"/>
<polyline points="1283.7,1019.6 1277.9,1032.9 1272.1,1046.2 1266.4,1059.6 1260.6,1072.9 1254.9,1086.3 1240.9,1107.7 1227.0,1129.2 1213.1,1150.7 1199.1,1172.4 1185.2,1194.1"/>
<polyline points="1254.9,1086.3 1253.1,1109.8 1251.3,1133.3 1249.5,1156.8 1247.7,1180.3 1245.9,1203.9"/>
<polyline points="1254.9,1086.3 1320.6,1097.4 1386.3,1109.7 1452.1,1123.5 1518.0,1138.7 1583.9,1155.0"/>
<polyline points="1185.2,1194.1 1219.8,1199.2 1254.3,1204.4 1288.9,1209.9 1323.4,1215.6 1357.9,1221.8 1344.6,1240.1 1331.2,1258.6 1317.8,1277.2 1304.5,1296.0 1291.1,1314.8"/>
<polyline points="1357.9,1221.8 1459.7,1188.6 1561.6,1158.7 1663.5,1130.4 1765.4,1102.3 1867.3,1073.2"/>
<polyline points="1245.9,1203.9 1313.5,1191.0 1381.0,1179.6 1448.6,1170.0 1516.2,1162.0 1583.9,1155.0"/>
<polyline points="262.8,1364.6 446.5,1332.0 629.7,1285.2 814.3,1245.3 999.9,1217.1 1185.2,1194.1"/>
<polyline points="262.7,1438.4 446.4,1390.7 629.7,1330.1 814.3,1274.5 999.8,1231.4 1185.2,1194.1"/>
<polyline points="262.4,1560.0 460.0,1463.7 657.2,1354.7 855.8,1253.0 1055.6,1166.3 1254.9,1086.3"/>
<polyline points="262.6,1470.2 460.1,1392.2 657.1,1299.8 855.9,1217.5 1055.7,1148.9 1254.9,1086.3"/>
<polyline points="262.8,1323.8 465.8,1260.3 668.4,1180.4 873.4,1118.2 1078.9,1066.1 1283.7,1019.6"/>
<polyline points="262.6,1460.5 458.5,1409.1 653.9,1344.3 850.9,1286.8 1048.6,1242.4 1245.9,1203.9"/>
<polyline points="262.9,1171.1 425.2,1144.5 586.9,1107.6 750.3,1078.8 914.7,1059.6 1079.0,1042.9"/>
<polyline points="262.7,1378.8 425.3,1313.2 587.1,1235.2 750.2,1160.8 914.6,1099.3 1079.0,1042.9"/>
<polyline points="1283.1,1018.9 1343.2,1044.0 1403.3,1070.0 1463.5,1097.3 1523.7,1125.7 1584.0,1155.0 1640.6,1138.7 1697.3,1122.6 1753.9,1106.5 1810.6,1090.1 1867.2,1073.2"/>
<polyline points="1255.5,1085.7 1321.1,1096.9 1386.7,1109.3 1452.4,1123.3 1518.2,1138.6 1584.0,1155.0"/>
<polyline points="1246.9,1203.6 1314.2,1190.7 1381.6,1179.4 1449.0,1169.9 1516.5,1162.0 1584.0,1155.0"/>
<polyline points="1357.5,1221.6 1402.8,1206.9 1448.0,1193.1 1493.3,1179.9 1538.6,1167.3 1584.0,1155.0"/>
<polyline points="1290.8,1314.2 1405.9,1259.4 1521.2,1210.7 1636.6,1164.7 1751.9,1119.5 1867.2,1073.2"/>
<polyline points="1290.8,1314.2 1400.9,1260.8 1511.1,1213.1 1621.3,1168.1 1731.6,1124.0 1841.8,1079.3"/>
<polyline points="1290.8,1314.2 1397.0,1262.6 1503.2,1216.3 1609.6,1172.8 1715.9,1130.2 1822.3,1087.3"/>
<polyline points="1388.0,1323.2 1483.8,1270.4 1579.7,1220.4 1675.5,1171.6 1771.4,1122.9 1867.2,1073.2"/>
<polyline points="1357.5,1221.6 1459.4,1188.5 1561.3,1158.6 1663.3,1130.3 1765.3,1102.3 1867.2,1073.2"/>
<polyline points="482.0,1244.0 538.9,1208.1 596.0,1171.8 653.3,1137.6 711.0,1106.2 768.9,1076.7"/>
<polyline points="482.0,1244.0 546.4,1203.1 611.0,1162.0 675.9,1124.2 741.3,1089.5 806.9,1057.0"/>
<polyline points="482.0,1244.0 553.9,1198.0 626.0,1152.5 698.6,1111.2 771.7,1073.3 845.0,1037.9"/>
<polyline points="482.0,1244.0 561.3,1192.9 641.0,1143.1 721.4,1098.5 802.1,1057.6 883.1,1019.2"/>
<polyline points="482.0,1244.0 568.8,1187.9 656.1,1134.0 744.1,1086.1 832.6,1042.2 921.2,1000.8"/>
<polyline points="482.0,1244.0 546.7,1218.9 611.5,1193.6 676.7,1170.9 742.2,1150.7 807.9,1132.4"/>
<polyline points="482.0,1244.0 553.9,1213.8 626.0,1184.0 698.6,1157.5 771.5,1134.0 844.7,1112.6"/>
<polyline points="482.0,1244.0 561.1,1208.8 640.5,1174.5 720.5,1144.5 800.9,1117.7 881.4,1093.3"/>
<polyline points="482.0,1244.0 568.3,1203.7 655.1,1165.2 742.5,1131.7 830.3,1101.8 918.2,1074.4"/>
<polyline points="695.2,1270.4 748.8,1218.5 802.7,1168.7 856.7,1120.8 910.8,1074.3 965.0,1028.4"/>
<polyline points="695.2,1270.4 757.6,1216.5 820.3,1165.2 883.2,1116.2 946.1,1068.6 1009.0,1021.4"/>
<polyline points="695.2,1270.4 766.4,1214.6 837.9,1161.8 909.6,1111.7 981.4,1062.8 1053.0,1014.6"/>
<polyline points="695.2,1270.4 775.2,1212.6 855.5,1158.5 936.1,1107.3 1016.6,1057.2 1097.1,1008.0"/>
<polyline points="695.2,1270.4 784.0,1210.7 873.1,1155.3 962.5,1102.9 1051.8,1051.7 1141.0,1001.8"/>
<polyline points="695.2,1270.4 792.8,1208.8 890.8,1152.2 988.9,1098.6 1087.0,1046.3 1185.0,995.8"/>
<polyline points="710.2,1272.5 768.6,1235.9 827.3,1201.2 886.1,1168.1 944.9,1136.3 1003.7,1105.0"/>
<polyline points="710.2,1272.5 780.7,1227.5 851.4,1185.2 922.3,1145.1 993.3,1106.2 1064.2,1067.9"/>
<polyline points="710.2,1272.5 792.7,1219.2 875.6,1169.5 958.6,1122.4 1041.7,1076.4 1124.6,1031.5"/>
<polyline points="710.2,1272.5 804.8,1210.9 899.8,1154.0 994.9,1099.9 1090.0,1047.0 1185.0,995.8"/>
<polyline points="871.0,1292.4 926.8,1244.8 982.7,1198.3 1038.7,1152.6 1094.6,1107.5 1150.5,1063.0"/>
<polyline points="871.0,1292.4 933.5,1242.2 996.1,1193.4 1058.7,1145.5 1121.3,1098.3 1183.8,1051.9"/>
<polyline points="871.0,1292.4 940.2,1239.7 1009.5,1188.6 1078.7,1138.4 1148.0,1089.1 1217.1,1040.9"/>
<polyline points="871.0,1292.4 946.9,1237.2 1022.8,1183.8 1098.8,1131.4 1174.7,1080.2 1250.4,1030.1"/>
<polyline points="871.0,1292.4 953.6,1234.7 1036.2,1179.0 1118.8,1124.4 1201.3,1071.3 1283.7,1019.7"/>
<polyline points="392.0,1178.0 420.8,1168.4 449.6,1158.4 478.3,1147.8 507.0,1136.4 535.7,1124.5"/>
<polyline points="392.0,1178.0 432.5,1169.6 473.0,1160.2 513.4,1149.3 553.8,1137.6 594.3,1126.1"/>
<polyline points="392.0,1178.0 444.2,1170.7 496.4,1161.4 548.5,1150.2 600.7,1139.0 653.2,1129.7"/>
</g>
<polygon points="370.8,348.0 588.0,293.2 915.2,280.0 1100.0,284.0 1184.0,286.0 1886.0,325.2 1744.0,402.0 1490.0,498.0 1396.0,507.2 1296.0,500.0 1100.0,486.0 864.0,467.2 464.0,396.0" stroke-width="0.7"/>
<polygon points="382.0,768.8 442.0,736.0 594.8,677.2 918.0,645.2 1186.0,644.8 1876.8,703.2 1700.0,796.0 1532.0,876.0 1428.0,910.0 1394.0,919.0 866.0,886.0 474.0,826.0" stroke-width="0.7"/>
<polygon points="392.0,1178.0 450.0,1130.0 530.0,1086.0 601.2,1051.2 921.2,1000.8 1184.0,995.2 1867.2,1073.2 1680.0,1172.0 1540.0,1246.0 1388.0,1323.2 870.0,1292.8 482.0,1244.0" stroke-width="0.7"/>
</g>
<g font-family="'Liberation Serif', serif" font-size="99" fill="#000" text-anchor="middle">
<text transform="translate(317.7,1486) scale(1,1.045)">80</text>
<text transform="translate(521,1519) scale(1,1.045)">100</text>
<text transform="translate(726,1551) scale(1,1.045)">120</text>
<text transform="translate(936,1584) scale(1,1.045)">140</text>
<text transform="translate(1148,1617) scale(1,1.045)">160</text>
<text transform="translate(1364,1651) scale(1,1.045)">180</text>
<text transform="translate(1613,1594) scale(1,1.045)">0.2</text>
<text transform="translate(1751,1514) scale(1,1.045)">0.4</text>
<text transform="translate(1883.5,1433) scale(1,1.045)">0.6</text>
<text transform="translate(2010,1357) scale(1,1.045)">0.8</text>
<text transform="translate(2214,242) scale(1,1.045)">0.04</text>
<text transform="translate(2207,384) scale(1,1.045)">0.03</text>
<text transform="translate(2203.5,529) scale(1,1.045)">0.02</text>
<text transform="translate(2199,673) scale(1,1.045)">0.01</text>
<text transform="translate(2194,814) scale(1,1.045)">0.00</text>
</g>
<g font-family="'Liberation Serif', serif" font-size="99" fill="#000">
<text transform="translate(2146,955) scale(1,1.045)"><tspan x="-80" y="7.7" textLength="75" lengthAdjust="spacingAndGlyphs">−</tspan><tspan x="0" y="0">0.01</tspan></text>
<text transform="translate(2142,1092) scale(1,1.045)"><tspan x="-81" y="7.7" textLength="75" lengthAdjust="spacingAndGlyphs">−</tspan><tspan x="0" y="0">0.02</tspan></text>
</g>
<g transform="translate(557.5,1686.2) rotate(8.8)" fill="#000" font-size="99" font-family="'Liberation Serif', serif"><text><tspan x="-7" y="0" font-style="italic" textLength="48" lengthAdjust="spacingAndGlyphs">v</tspan><tspan x="45" y="15" font-style="italic" font-size="80" textLength="39" lengthAdjust="spacingAndGlyphs">x</tspan> <tspan x="123" y="0" font-family="'Liberation Sans', sans-serif" font-size="88" textLength="62" lengthAdjust="spacingAndGlyphs">in</tspan> <tspan x="226" y="0" textLength="137" lengthAdjust="spacingAndGlyphs">km</tspan><tspan x="375" y="8" font-size="116" textLength="40" lengthAdjust="spacingAndGlyphs">/</tspan><tspan x="426" y="0" textLength="56" lengthAdjust="spacingAndGlyphs">h</tspan></text></g>
<g transform="translate(1716.5,1686.5) rotate(-30)" fill="#000" font-size="99" font-family="'Liberation Serif', serif" font-style="italic"><text><tspan x="0" y="0">a</tspan><tspan x="46" y="16" font-size="80" textLength="159" lengthAdjust="spacing">y,ref</tspan><tspan x="239" y="8" text-anchor="middle" font-style="normal" font-size="118">/</tspan><tspan x="271" y="0">a</tspan><tspan x="318" y="16" font-size="80" textLength="218" lengthAdjust="spacing">y,smax</tspan></text></g>
<g transform="translate(2380,768) rotate(-90)" fill="#000" font-size="99" font-family="'Liberation Serif', serif"><text><tspan x="0" y="0" font-style="italic" textLength="37" lengthAdjust="spacingAndGlyphs">e</tspan><tspan x="39" y="16" font-style="italic" font-size="80">l</tspan> <tspan x="105" y="0" font-family="'Liberation Sans', sans-serif" font-size="88" textLength="57" lengthAdjust="spacingAndGlyphs">in</tspan> <tspan x="203" y="0" textLength="84" lengthAdjust="spacingAndGlyphs">m</tspan></text></g>
<rect x="46.5" y="1914.5" width="2099.7" height="277.5" rx="13" ry="13" fill="#fff" stroke="#ccc" stroke-width="7"/>
<circle cx="184.5" cy="1999" r="31" fill="#e37222"/>
<rect x="85.3" y="2054" width="198.4" height="89" fill="#005293" fill-opacity="0.6"/>
<rect x="1275.3" y="1954" width="197.7" height="88.3" fill="#005293" fill-opacity="0.4"/>
<rect x="1275.3" y="2054.3" width="197.7" height="89" fill="#005293" fill-opacity="0.6"/>
<g font-family="'Liberation Sans', sans-serif" font-size="92" fill="#000" stroke="#fff" stroke-width="1.4">
<text x="361" y="2032" textLength="702" lengthAdjust="spacing">Validation Metric</text>
<text x="364" y="2131" textLength="530" lengthAdjust="spacing">Lower Bound</text>
<text x="1549.5" y="2032" textLength="543" lengthAdjust="spacing">Inferred Error</text>
<text x="1551.5" y="2131" textLength="538" lengthAdjust="spacing">Upper Bound</text>
</g>
</svg>
</body></html>
